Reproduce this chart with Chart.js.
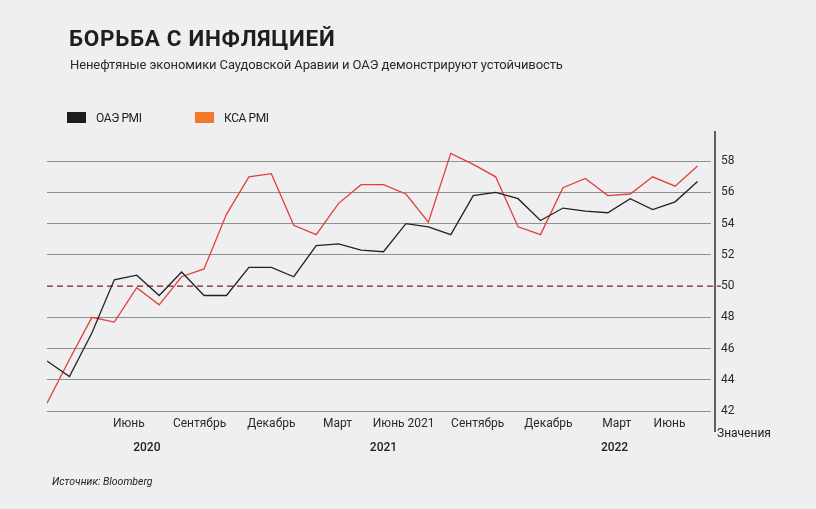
<!DOCTYPE html>
<html>
<head>
<meta charset="utf-8">
<script src="https://cdn.jsdelivr.net/npm/chart.js@4"></script>
<style>
  html, body { margin: 0; padding: 0; background: #efeef1; }
  body { width: 816px; height: 509px; position: relative; overflow: hidden; font-family: Roboto, sans-serif; color: #222; }
  #wrap { position: absolute; left: 0; top: 0; width: 816px; height: 509px; }
  .title { position: absolute; left: 69px; top: 27px; font-size: 22.5px; line-height: 1; font-weight: 700; letter-spacing: 0.7px; color: #1e1e1e; }
  .subtitle { position: absolute; left: 70px; top: 58px; font-size: 13px; line-height: 1; color: #2a2a2a; letter-spacing: -0.1px; }
  .legend { position: absolute; top: 112px; font-size: 12px; line-height: 12px; color: #222; letter-spacing: -0.4px; }
  .legend i { display: inline-block; width: 19px; height: 11px; vertical-align: -1px; margin-right: 10px; }
  .source { position: absolute; left: 52px; top: 476px; font-size: 10.5px; font-style: italic; line-height: 12px; color: #222; }
</style>
</head>
<body>
<div id="wrap"><canvas id="chart" width="816" height="509"></canvas></div>
<div class="title">БОРЬБА С ИНФЛЯЦИЕЙ</div>
<div class="subtitle">Ненефтяные экономики Саудовской Аравии и ОАЭ демонстрируют устойчивость</div>
<div class="legend" style="left:67px"><i style="background:#1f1c1d"></i>ОАЭ PMI</div>
<div class="legend" style="left:195px"><i style="background:#f07a25"></i>КСА PMI</div>
<div class="source">Источник: Bloomberg</div>
<script>
const months = [
  'Март 2020', 'Апрель 2020', 'Май 2020', 'Июнь 2020', 'Июль 2020', 'Август 2020',
  'Сентябрь 2020', 'Октябрь 2020', 'Ноябрь 2020', 'Декабрь 2020', 'Январь 2021', 'Февраль 2021',
  'Март 2021', 'Апрель 2021', 'Май 2021', 'Июнь 2021', 'Июль 2021', 'Август 2021',
  'Сентябрь 2021', 'Октябрь 2021', 'Ноябрь 2021', 'Декабрь 2021', 'Январь 2022', 'Февраль 2022',
  'Март 2022', 'Апрель 2022', 'Май 2022', 'Июнь 2022', 'Июль 2022', 'Август 2022'
];
const uaePmi = [45.2, 44.2, 47.0, 50.4, 50.7, 49.4, 50.9, 49.4, 49.4, 51.2, 51.2, 50.6, 52.6, 52.7, 52.3,
  52.2, 54.0, 53.8, 53.3, 55.8, 56.0, 55.6, 54.2, 55.0, 54.8, 54.7, 55.6, 54.9, 55.4, 56.7];
const ksaPmi = [42.5, 45.3, 48.0, 47.7, 49.9, 48.8, 50.6, 51.1, 54.6, 57.0, 57.2, 53.9, 53.3, 55.3, 56.5,
  56.5, 55.9, 54.1, 58.5, 57.8, 57.0, 53.8, 53.3, 56.3, 56.9, 55.8, 55.9, 57.0, 56.4, 57.7];

// tick labels as printed under the axis, placed in month-index units
const monthTickLabels = ['Июнь', 'Сентябрь', 'Декабрь', 'Март', 'Июнь 2021', 'Сентябрь', 'Декабрь', 'Март', 'Июнь'];
const monthTickAt = [3.65, 6.8, 10, 12.95, 15.9, 19.2, 22.35, 25.4, 27.75];
const yearLabels = ['2020', '2021', '2022'];
const yearAt = [4.45, 15, 25.3];
const valueTicks = [42, 44, 46, 48, 50, 52, 54, 56, 58];
const threshold = 50;

const extras = {
  id: 'extras',
  beforeDatasetsDraw(chart) {
    const { ctx, chartArea, scales } = chart;
    const y = scales.y.getPixelForValue(threshold);
    ctx.save();
    ctx.strokeStyle = '#861c22';
    ctx.lineWidth = 1.2;
    ctx.setLineDash([6, 4]);
    ctx.beginPath();
    ctx.moveTo(chartArea.left, y);
    ctx.lineTo(chartArea.right + 10, y);
    ctx.stroke();
    ctx.restore();
  },
  afterDraw(chart) {
    const { ctx, chartArea } = chart;
    const ax = chartArea.right + 4;
    ctx.save();
    ctx.strokeStyle = '#111';
    ctx.lineWidth = 1.3;
    ctx.beginPath();
    ctx.moveTo(ax, chartArea.top + 1);
    ctx.lineTo(ax, chartArea.bottom + 21);
    ctx.stroke();
    ctx.fillStyle = '#222';
    ctx.font = '12px Roboto';
    ctx.textBaseline = 'middle';
    ctx.textAlign = 'left';
    ctx.fillText('Значения', ax + 2, chartArea.bottom + 23);
    ctx.restore();
  }
};

const toPoints = arr => arr.map((v, i) => ({ x: i, y: v }));

new Chart(document.getElementById('chart'), {
  type: 'line',
  data: {
    datasets: [{
      label: 'ОАЭ PMI',
      data: toPoints(uaePmi),
      borderColor: '#222222',
      borderWidth: 1.3,
      pointRadius: 0,
      tension: 0
    }, {
      label: 'КСА PMI',
      data: toPoints(ksaPmi),
      borderColor: '#e3403c',
      borderWidth: 1.3,
      pointRadius: 0,
      tension: 0
    }]
  },
  options: {
    responsive: false,
    animation: false,
    layout: { padding: { left: 47, top: 130, right: 0, bottom: 0 } },
    plugins: {
      legend: { display: false },
      tooltip: { callbacks: { title: items => months[items[0].parsed.x] } }
    },
    scales: {
      x: {
        type: 'linear',
        min: 0,
        max: 29.6,
        afterBuildTicks: s => { s.ticks = monthTickAt.map(v => ({ value: v })); },
        afterFit: s => { s.height = 20; },
        grid: { display: false, drawTicks: false },
        border: { display: false },
        ticks: {
          autoSkip: false,
          maxRotation: 0,
          padding: 6,
          color: '#2a2a2a',
          font: { family: 'Roboto', size: 12 },
          callback: (v, i) => monthTickLabels[i]
        }
      },
      years: {
        type: 'linear',
        position: 'bottom',
        min: 0,
        max: 29.6,
        afterBuildTicks: s => { s.ticks = yearAt.map(v => ({ value: v })); },
        afterFit: s => { s.height = 78; },
        grid: { display: false, drawTicks: false },
        border: { display: false },
        ticks: {
          autoSkip: false,
          maxRotation: 0,
          padding: 10,
          color: '#222',
          font: { family: 'Roboto', size: 12, weight: '500' },
          callback: (v, i) => yearLabels[i]
        }
      },
      y: {
        position: 'right',
        min: 42,
        max: 60,
        afterBuildTicks: s => { s.ticks = valueTicks.map(v => ({ value: v })); },
        afterFit: s => { s.width = 105; },
        grid: {
          drawTicks: false,
          color: c => (c.tick && c.tick.value === threshold) ? 'rgba(0,0,0,0)' : '#8f8f8f',
          lineWidth: 1
        },
        border: { display: false },
        ticks: {
          padding: 10,
          color: '#2a2a2a',
          font: { family: 'Roboto', size: 12 }
        }
      }
    }
  },
  plugins: [extras]
});
</script>
</body>
</html>
